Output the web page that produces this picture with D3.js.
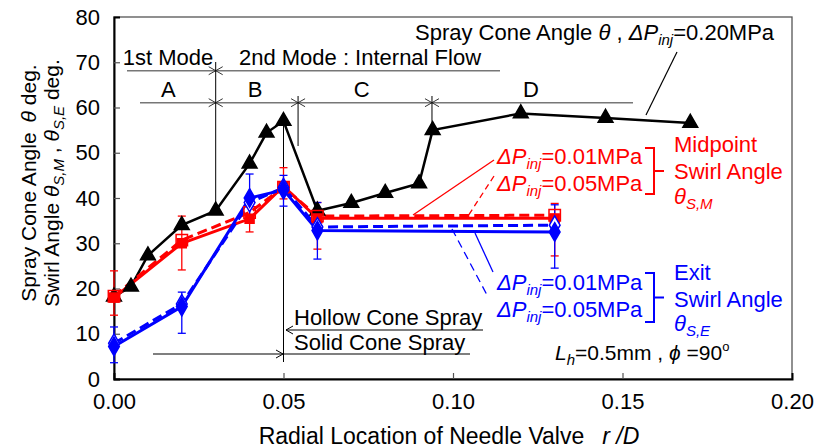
<!DOCTYPE html>
<html>
<head>
<meta charset="utf-8">
<script src="https://cdn.jsdelivr.net/npm/d3@7"></script>
<style>
  body { margin: 0; background: #fff; }
  svg text { font-family: "Liberation Sans", Arial, sans-serif; }
</style>
</head>
<body>
<svg id="chart" width="822" height="448"></svg>
<script>
  // spray cone angle, dP = 0.20 MPa
  const cone_r     = [0, 0.005, 0.01, 0.02, 0.03, 0.04, 0.045, 0.05, 0.06, 0.07, 0.08, 0.09, 0.094, 0.12, 0.145, 0.17];
  const cone_theta = [18.2, 20.4, 27.3, 34, 37.2, 47.6, 54.4, 57, 37.2, 38.9, 41.1, 43.2, 55, 58.7, 57.7, 56.6];

  // swirl angle locations
  const swirl_r = [0, 0.02, 0.04, 0.05, 0.06, 0.13];

  // midpoint swirl angle
  const mid_01  = [18, 30, 35.4, 42.6, 35.5, 35.5];
  const mid_05  = [18.3, 30.7, 36.8, 42.4, 36, 36.2];
  const mid_lo  = [14.1, 24.1, 32.5, 39.8, 28.7, 27.2];
  const mid_hi  = [23.9, 36, 38.6, 46.7, 39, 38.8];

  // exit swirl angle
  const exit_01 = [7.2, 16, 40, 41.8, 32.8, 32.5];
  const exit_05 = [7.9, 16.6, 39, 42.3, 33.6, 34];
  const exit_lo = [3.6, 10.1, 34.5, 38.2, 26.5, 24.5];
  const exit_hi = [11.5, 19.2, 45.3, 45, 39, 38.5];

  const x_ticks = [0, 0.05, 0.10, 0.15, 0.20];
  const y_ticks = [0, 10, 20, 30, 40, 50, 60, 70, 80];

  // mode boundaries (r/D)
  const mode_bounds   = [0.03];
  const region_bounds = [0.03, 0.0543, 0.0938];
  const region_labels = [["A", 0.016], ["B", 0.0416], ["C", 0.0731], ["D", 0.123]];
  const hollow_r = 0.05;

  const svg = d3.select('#chart');
  const x = d3.scaleLinear().domain([0, 0.2]).range([114, 792]);
  const y = d3.scaleLinear().domain([0, 80]).range([379, 17]);

  const RED = '#ff0000', BLUE = '#0000ff';
  const FS = 22, SUB = 15;

  // frame
  svg.append('rect').attr('x', 114).attr('y', 17).attr('width', 678).attr('height', 362)
    .attr('fill', 'none').attr('stroke', '#555').attr('stroke-width', 1.3);

  // axes
  const xAxis = d3.axisBottom(x).tickValues(x_ticks).tickSize(-6).tickPadding(14)
    .tickFormat(d3.format('.2f'));
  const gx = svg.append('g').attr('transform', 'translate(0,379)').call(xAxis);
  const yAxis = d3.axisLeft(y).tickValues(y_ticks).tickSize(-6).tickPadding(14);
  const gy = svg.append('g').attr('transform', 'translate(114,0)').call(yAxis);
  [gx, gy].forEach(function (g) {
    g.select('.domain').attr('stroke', '#000').attr('stroke-width', 2);
    g.selectAll('.tick line').attr('stroke', '#555').attr('stroke-width', 1.2);
    g.selectAll('.tick text').attr('font-size', 22).attr('fill', '#000')
      .attr('font-family', '"Liberation Sans", Arial, sans-serif');
  });
  gx.selectAll('.tick').filter(function (d) { return d === 0 || d === 0.2; }).select('line').remove();
  gy.selectAll('.tick').filter(function (d) { return d === 0 || d === 80; }).select('line').remove();

  // axis titles
  const xt = svg.append('text').attr('x', 449).attr('y', 444).attr('text-anchor', 'middle')
    .attr('font-size', 23);
  xt.append('tspan').text('Radial Location of Needle Valve');
  xt.append('tspan').attr('dx', 18).attr('font-style', 'italic').text('r /D');

  const yl = svg.append('g').attr('transform', 'translate(36,183) rotate(-90)');
  const y1 = yl.append('text').attr('text-anchor', 'middle').attr('font-size', 21);
  y1.append('tspan').text('Spray Cone Angle');
  y1.append('tspan').attr('dx', 10).attr('font-style', 'italic').text('θ');
  y1.append('tspan').text(' deg.');
  const y2 = yl.append('text').attr('text-anchor', 'middle').attr('font-size', 21).attr('y', 23);
  y2.append('tspan').text('Swirl Angle ');
  y2.append('tspan').attr('font-style', 'italic').text('θ');
  y2.append('tspan').attr('font-style', 'italic').attr('font-size', SUB).attr('dy', 5).text('S,M');
  y2.append('tspan').attr('dy', -5).text(' , ');
  y2.append('tspan').attr('font-style', 'italic').text('θ');
  y2.append('tspan').attr('font-style', 'italic').attr('font-size', SUB).attr('dy', 5).text('S,E');
  y2.append('tspan').attr('dy', -5).text(' deg.');

  // ---- mode annotations
  const GREY = '#777';
  const row1 = 70.7, row2 = 102.7;
  function chevrons(px, py, color) {
    svg.append('path')
      .attr('d', 'M' + (px - 7) + ',' + (py - 4) + 'L' + px + ',' + py + 'L' + (px - 7) + ',' + (py + 4)
        + 'M' + (px + 7) + ',' + (py - 4) + 'L' + px + ',' + py + 'L' + (px + 7) + ',' + (py + 4))
      .attr('fill', 'none').attr('stroke', color).attr('stroke-width', 1);
  }
  svg.append('line').attr('x1', 127).attr('x2', 500).attr('y1', row1).attr('y2', row1)
    .attr('stroke', GREY).attr('stroke-width', 1.5);
  svg.append('line').attr('x1', 140).attr('x2', 633).attr('y1', row2).attr('y2', row2)
    .attr('stroke', GREY).attr('stroke-width', 1.5);
  mode_bounds.forEach(function (r) { chevrons(x(r), row1, '#333'); });
  region_bounds.forEach(function (r) { chevrons(x(r), row2, '#333'); });

  // boundary verticals
  svg.append('line').attr('x1', x(0.03)).attr('x2', x(0.03)).attr('y1', 62).attr('y2', y(37.2))
    .attr('stroke', '#000').attr('stroke-width', 1);
  svg.append('line').attr('x1', x(0.0543)).attr('x2', x(0.0543)).attr('y1', 96).attr('y2', 146)
    .attr('stroke', '#000').attr('stroke-width', 1);
  svg.append('line').attr('x1', x(0.0938)).attr('x2', x(0.0938)).attr('y1', 96).attr('y2', 127)
    .attr('stroke', '#000').attr('stroke-width', 1);

  svg.append('text').attr('x', 168).attr('y', 65).attr('text-anchor', 'middle').attr('font-size', FS)
    .text('1st Mode');
  svg.append('text').attr('x', 360).attr('y', 65).attr('text-anchor', 'middle').attr('font-size', FS)
    .text('2nd Mode : Internal Flow');
  region_labels.forEach(function (d) {
    svg.append('text').attr('x', x(d[1])).attr('y', 97).attr('text-anchor', 'middle')
      .attr('font-size', FS).text(d[0]);
  });

  // hollow / solid cone
  svg.append('line').attr('x1', x(hollow_r)).attr('x2', x(hollow_r)).attr('y1', y(57)).attr('y2', 362)
    .attr('stroke', '#000').attr('stroke-width', 1);
  svg.append('line').attr('x1', 286).attr('x2', 483).attr('y1', 330).attr('y2', 330)
    .attr('stroke', '#000').attr('stroke-width', 1.2);
  svg.append('path').attr('d', 'M293,326L286,330L293,334').attr('fill', 'none').attr('stroke', '#000');
  svg.append('line').attr('x1', 153).attr('x2', 470).attr('y1', 354).attr('y2', 354)
    .attr('stroke', '#000').attr('stroke-width', 1.2);
  svg.append('path').attr('d', 'M276,350L283,354L276,358').attr('fill', 'none').attr('stroke', '#000');
  svg.append('text').attr('x', 294).attr('y', 325).attr('font-size', FS).text('Hollow Cone Spray');
  svg.append('text').attr('x', 294).attr('y', 350).attr('font-size', FS).text('Solid Cone Spray');

  // ---- series
  const line = d3.line().x(function (d) { return x(d[0]); }).y(function (d) { return y(d[1]); });
  function pairs(xs, ys) { return xs.map(function (v, i) { return [v, ys[i]]; }); }

  // error bars
  function errbars(lo, hi, color) {
    swirl_r.forEach(function (r, i) {
      const g = svg.append('g').attr('stroke', color).attr('stroke-width', 1.3);
      g.append('line').attr('x1', x(r)).attr('x2', x(r)).attr('y1', y(lo[i])).attr('y2', y(hi[i]));
      g.append('line').attr('x1', x(r) - 4).attr('x2', x(r) + 4).attr('y1', y(lo[i])).attr('y2', y(lo[i]));
      g.append('line').attr('x1', x(r) - 4).attr('x2', x(r) + 4).attr('y1', y(hi[i])).attr('y2', y(hi[i]));
    });
  }
  errbars(mid_lo, mid_hi, RED);
  errbars(exit_lo, exit_hi, BLUE);

  function series(xs, ys, color, dash, width) {
    svg.append('path').datum(pairs(xs, ys)).attr('d', line)
      .attr('fill', 'none').attr('stroke', color).attr('stroke-width', width)
      .attr('stroke-dasharray', dash);
  }
  function markers(xs, ys, type, size, fill, stroke) {
    svg.selectAll(null).data(pairs(xs, ys)).enter().append('path')
      .attr('transform', function (d) { return 'translate(' + x(d[0]) + ',' + y(d[1]) + ')'; })
      .attr('d', d3.symbol().type(type).size(size))
      .attr('fill', fill).attr('stroke', stroke).attr('stroke-width', 1.5);
  }

  series(cone_r, cone_theta, '#000', null, 2.5);
  series(swirl_r, mid_05, RED, '10,5', 3);
  series(swirl_r, mid_01, RED, null, 3);
  series(swirl_r, exit_05, BLUE, '10,5', 3);
  series(swirl_r, exit_01, BLUE, null, 3);

  markers(cone_r, cone_theta, d3.symbolTriangle, 95, '#000', '#000');
  markers(swirl_r, mid_01, d3.symbolSquare, 80, RED, RED);
  markers(swirl_r, mid_05, d3.symbolSquare, 130, 'none', RED);
  markers(swirl_r, exit_05, d3.symbolDiamond, 100, '#fff', BLUE);
  markers(swirl_r, exit_01, d3.symbolDiamond, 100, BLUE, BLUE);

  // ---- legend annotations
  function dp(g, xp, yp, color, val) {
    const t = g.append('text').attr('x', xp).attr('y', yp).attr('font-size', FS).attr('fill', color);
    t.append('tspan').attr('font-style', 'italic').text('ΔP');
    t.append('tspan').attr('font-style', 'italic').attr('font-size', SUB).attr('dy', 5).text('inj');
    t.append('tspan').attr('dy', -5).text(val);
    return t;
  }
  function bracket(x0, top, bottom, color) {
    const mid = (top + bottom) / 2;
    svg.append('path')
      .attr('d', 'M' + (x0 - 9) + ',' + top + 'L' + x0 + ',' + top + 'L' + x0 + ',' + bottom + 'L' + (x0 - 9) + ',' + bottom
        + 'M' + x0 + ',' + mid + 'L' + (x0 + 10) + ',' + mid)
      .attr('fill', 'none').attr('stroke', color).attr('stroke-width', 2);
  }

  // spray cone label
  const st = svg.append('text').attr('x', 415).attr('y', 40).attr('font-size', FS);
  st.append('tspan').text('Spray Cone Angle ');
  st.append('tspan').attr('font-style', 'italic').text('θ');
  st.append('tspan').text(' , ');
  st.append('tspan').attr('font-style', 'italic').text('ΔP');
  st.append('tspan').attr('font-style', 'italic').attr('font-size', SUB).attr('dy', 5).text('inj');
  st.append('tspan').attr('dy', -5).text('=0.20MPa');
  svg.append('line').attr('x1', 677).attr('y1', 52).attr('x2', 646).attr('y2', 115)
    .attr('stroke', '#000').attr('stroke-width', 1.2);

  // midpoint
  dp(svg, 497, 164, RED, '=0.01MPa');
  dp(svg, 497, 191, RED, '=0.05MPa');
  bracket(654, 148, 194, RED);
  svg.append('text').attr('x', 674).attr('y', 152).attr('font-size', FS).attr('fill', RED).text('Midpoint');
  svg.append('text').attr('x', 674).attr('y', 179).attr('font-size', FS).attr('fill', RED).text('Swirl Angle');
  const tm = svg.append('text').attr('x', 674).attr('y', 204).attr('font-size', FS).attr('fill', RED);
  tm.append('tspan').attr('font-style', 'italic').text('θ');
  tm.append('tspan').attr('font-style', 'italic').attr('font-size', SUB).attr('dy', 5).text('S,M');
  svg.append('line').attr('x1', 494).attr('y1', 160).attr('x2', 413).attr('y2', 215)
    .attr('stroke', RED).attr('stroke-width', 1.3);
  svg.append('line').attr('x1', 494).attr('y1', 176).attr('x2', 468).attr('y2', 216)
    .attr('stroke', RED).attr('stroke-width', 1.3).attr('stroke-dasharray', '6,4');

  // exit
  dp(svg, 497, 290, BLUE, '=0.01MPa');
  dp(svg, 497, 317, BLUE, '=0.05MPa');
  bracket(654, 273, 322, BLUE);
  svg.append('text').attr('x', 674).attr('y', 280).attr('font-size', FS).attr('fill', BLUE).text('Exit');
  svg.append('text').attr('x', 674).attr('y', 307).attr('font-size', FS).attr('fill', BLUE).text('Swirl Angle');
  const te = svg.append('text').attr('x', 674).attr('y', 331).attr('font-size', FS).attr('fill', BLUE);
  te.append('tspan').attr('font-style', 'italic').text('θ');
  te.append('tspan').attr('font-style', 'italic').attr('font-size', SUB).attr('dy', 5).text('S,E');
  svg.append('line').attr('x1', 475).attr('y1', 233).attr('x2', 493).attr('y2', 272)
    .attr('stroke', BLUE).attr('stroke-width', 1.3);
  svg.append('line').attr('x1', 452).attr('y1', 229).attr('x2', 487).attr('y2', 295)
    .attr('stroke', BLUE).attr('stroke-width', 1.3).attr('stroke-dasharray', '8,5');

  // conditions
  const lc = svg.append('text').attr('x', 555).attr('y', 360).attr('font-size', 21);
  lc.append('tspan').attr('font-style', 'italic').text('L');
  lc.append('tspan').attr('font-style', 'italic').attr('font-size', SUB).attr('dy', 5).text('h');
  lc.append('tspan').attr('dy', -5).text('=0.5mm , ');
  lc.append('tspan').attr('font-style', 'italic').text('ϕ');
  lc.append('tspan').text(' =90');
  lc.append('tspan').attr('font-size', 13).attr('dy', -9).text('o');
</script>
</body>
</html>
